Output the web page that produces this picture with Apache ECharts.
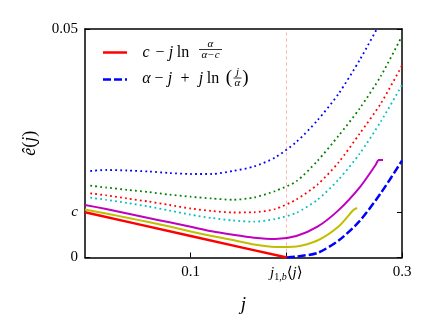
<!DOCTYPE html>
<html>
<head>
<meta charset="utf-8">
<script src="https://cdn.jsdelivr.net/npm/echarts@6/dist/echarts.min.js"></script>
<style>
html, body { margin: 0; padding: 0; background: #fff; }
#main { width: 435px; height: 327px; }
</style>
</head>
<body>
<div id="main"></div>
<script>
var chartDom = document.getElementById('main');
var myChart = echarts.init(chartDom);
var option;

const SERIF = '"Liberation Serif", "DejaVu Serif", serif';

// sample points for the dotted family
const jGrid = [0.005, 0.02, 0.04, 0.06, 0.08, 0.1, 0.12, 0.14, 0.16, 0.18, 0.2, 0.22, 0.24, 0.26, 0.28, 0.3];
const eBlueDot = [0.01893, 0.01915, 0.01904, 0.01882, 0.01849, 0.01827, 0.01827, 0.01893, 0.01991, 0.02190, 0.02527, 0.03002, 0.03584, 0.04324, 0.0516, null];
const eGreenDot = [0.01571, 0.01532, 0.01481, 0.01433, 0.01376, 0.01330, 0.01291, 0.01263, 0.01313, 0.01455, 0.01667, 0.02114, 0.02665, 0.03263, 0.03972, 0.04847];
const eRedDot = [0.01405, 0.01361, 0.01291, 0.01225, 0.01149, 0.01072, 0.01018, 0.00985, 0.00989, 0.01061, 0.01269, 0.01595, 0.02081, 0.02713, 0.03372, 0.04201];
const eCyanDot = [0.01309, 0.01263, 0.01193, 0.01116, 0.01028, 0.00937, 0.00864, 0.00810, 0.00783, 0.00842, 0.00978, 0.01263, 0.01705, 0.02274, 0.02978, 0.03775];

// solid curves
const jMagenta = [0, 0.02, 0.04, 0.06, 0.08, 0.1, 0.12, 0.14, 0.16, 0.18, 0.2, 0.22, 0.24, 0.26, 0.275, 0.278, 0.282];
const eMagenta = [0.01149, 0.01061, 0.00963, 0.00864, 0.00770, 0.00672, 0.00573, 0.00497, 0.00433, 0.00405, 0.00470, 0.00674, 0.01037, 0.01536, 0.02024, 0.02133, 0.02133];
const jYellow = [0, 0.02, 0.04, 0.06, 0.08, 0.1, 0.12, 0.14, 0.16, 0.18, 0.2, 0.22, 0.24, 0.254, 0.2575];
const eYellow = [0.0105, 0.00963, 0.00869, 0.00777, 0.00678, 0.00569, 0.00470, 0.00383, 0.00284, 0.00230, 0.00241, 0.00372, 0.00678, 0.01039, 0.01083];

// c - j ln(alpha/(alpha-c))  and  alpha - j + j ln(j/alpha)
const jRed = [0, 0.05, 0.1, 0.15, 0.191];
const eRed = [0.0099, 0.0073, 0.0047, 0.0021, 0];
const jBlue = [0.191, 0.2, 0.22, 0.24, 0.26, 0.28, 0.3];
const eBlue = [0, 0.0002, 0.0010, 0.0037, 0.0080, 0.0141, 0.0212];

const jOneB = 0.1905;
const xTickValues = [0.1, jOneB, 0.3];
const xTickLabels = ['0.1', '{i|j}{s|1,}{si|b}{n|⟨}{i|j}{n|⟩}', '0.3'];
const yTickValues = [0, 0.0099, 0.05];
const yTickLabels = ['0', '{i|c}', '0.05'];

function pick(vals, labels, v) {
    var k = vals.findIndex(function (t) { return Math.abs(t - v) < 1e-7; });
    return k < 0 ? '' : labels[k];
}

function curve(name, js, es, color, width, dash, z, smooth) {
    return {
        name: name,
        type: 'line',
        data: js.map(function (j, i) { return [j, es[i]]; }),
        showSymbol: false,
        smooth: smooth,
        silent: true,
        z: z,
        lineStyle: { color: color, width: width, type: dash, cap: 'butt' }
    };
}

const richTick = {
    n: { fontFamily: SERIF, fontSize: 15, color: '#000', lineHeight: 18, verticalAlign: 'middle' },
    i: { fontFamily: SERIF, fontSize: 15, fontStyle: 'italic', color: '#000', lineHeight: 18, verticalAlign: 'middle' },
    s: { fontFamily: SERIF, fontSize: 10, color: '#000', lineHeight: 10, verticalAlign: 'bottom' },
    si: { fontFamily: SERIF, fontSize: 10, fontStyle: 'italic', color: '#000', lineHeight: 10, verticalAlign: 'bottom' }
};

function tok(text, x, y, size, italic) {
    return {
        type: 'text', x: x, y: y, silent: true,
        style: {
            text: text, fill: '#000',
            font: (italic ? 'italic ' : '') + size + 'px ' + SERIF,
            align: 'center', verticalAlign: 'middle',
            textAlign: 'center', textVerticalAlign: 'middle'
        }
    };
}
function seg(x1, y1, x2, y2, color, w, dash) {
    return {
        type: 'line', silent: true,
        shape: { x1: x1, y1: y1, x2: x2, y2: y2 },
        style: { stroke: color, lineWidth: w, lineDash: dash || null }
    };
}

const dot = [1.8, 3.2];

option = {
    backgroundColor: '#fff',
    animation: false,
    grid: { left: 85, top: 29, right: 33, bottom: 69.5, outerBoundsMode: 'none' },
    xAxis: [{
        type: 'value', min: 0, max: 0.3,
        name: 'j', nameLocation: 'middle', nameGap: 38,
        nameTextStyle: { fontFamily: SERIF, fontStyle: 'italic', fontSize: 19, color: '#000' },
        axisLine: { show: true, onZero: false, lineStyle: { color: '#000', width: 1.5 } },
        axisTick: { show: true, inside: true, length: 5, customValues: xTickValues, lineStyle: { color: '#000', width: 1 } },
        axisLabel: {
            customValues: xTickValues, margin: 7, color: '#000', fontFamily: SERIF, fontSize: 15,
            formatter: function (v) { return pick(xTickValues, xTickLabels, v); },
            rich: richTick
        },
        splitLine: { show: false }
    }, {
        type: 'value', min: 0, max: 0.3, position: 'top',
        axisLine: { show: true, onZero: false, lineStyle: { color: '#000', width: 1.5 } },
        axisTick: { show: false }, axisLabel: { show: false }, splitLine: { show: false }
    }],
    yAxis: [{
        type: 'value', min: 0, max: 0.05,
        name: '{i|ê}{n|(}{i|j}{n|)}', nameLocation: 'middle', nameGap: 46, nameRotate: 90,
        nameTextStyle: {
            rich: {
                n: { fontFamily: SERIF, fontSize: 18, color: '#000' },
                i: { fontFamily: SERIF, fontSize: 18, fontStyle: 'italic', color: '#000' }
            }
        },
        axisLine: { show: true, onZero: false, lineStyle: { color: '#000', width: 1.5 } },
        axisTick: { show: true, inside: true, length: 5, customValues: yTickValues, lineStyle: { color: '#000', width: 1 } },
        axisLabel: {
            customValues: yTickValues, margin: 7, color: '#000', fontFamily: SERIF, fontSize: 15,
            formatter: function (v) { return pick(yTickValues, yTickLabels, v); },
            rich: richTick
        },
        splitLine: { show: false }
    }, {
        type: 'value', min: 0, max: 0.05, position: 'right',
        axisLine: { show: true, onZero: false, lineStyle: { color: '#000', width: 1.5 } },
        axisTick: { show: true, inside: true, length: 5, customValues: yTickValues, lineStyle: { color: '#000', width: 1 } },
        axisLabel: { show: false, customValues: yTickValues },
        splitLine: { show: false }
    }],
    series: [
        curve('blue dotted', jGrid, eBlueDot, '#0000ff', 1.8, dot, 2, 0.25),
        curve('green dotted', jGrid, eGreenDot, '#008000', 1.8, dot, 2, 0.25),
        curve('red dotted', jGrid, eRedDot, '#ff0000', 1.8, dot, 2, 0.25),
        curve('cyan dotted', jGrid, eCyanDot, '#00bfbf', 1.8, dot, 2, 0.25),
        curve('magenta', jMagenta, eMagenta, '#bf00bf', 2, 'solid', 3, 0.25),
        curve('yellow', jYellow, eYellow, '#bfbf00', 2, 'solid', 3, 0.25),
        Object.assign(curve('c - j ln', jRed, eRed, '#ff0000', 2.5, 'solid', 4, false), {
            markLine: {
                silent: true, symbol: ['none', 'none'], label: { show: false },
                lineStyle: { color: 'rgba(255,0,0,0.3)', width: 1, type: [3, 3] },
                data: [{ xAxis: jOneB }]
            }
        }),
        curve('alpha - j + j ln', jBlue, eBlue, '#0000ff', 2.5, [8, 3], 4, 0.25)
    ],
    graphic: [
        seg(103, 52.5, 127, 52.5, '#ff0000', 2.5),
        tok('c', 146, 52.5, 16, true),
        tok('−', 160, 52.5, 16, false),
        tok('j', 171, 52.5, 16, true),
        tok('ln', 183, 52.5, 16, false),
        tok('α', 210.5, 44, 11, true),
        seg(199, 49.5, 222, 49.5, '#000', 0.8),
        tok('α−c', 210.5, 55.5, 11, true),

        seg(103, 79.5, 127, 79.5, '#0000ff', 2.5, [8, 3]),
        tok('α', 146.5, 78.5, 16, true),
        tok('−', 159, 78.5, 16, false),
        tok('j', 170, 78.5, 16, true),
        tok('+', 185, 78.5, 16, false),
        tok('j', 201, 78.5, 16, true),
        tok('ln', 213, 78.5, 16, false),
        tok('(', 229, 78.5, 19, false),
        tok('j', 237.5, 72.5, 11, true),
        seg(233.5, 78, 241.5, 78, '#000', 0.8),
        tok('α', 237.5, 83.5, 11, true),
        tok(')', 245.5, 78.5, 19, false)
    ]
};

option && myChart.setOption(option);

window.addEventListener('resize', function () {
    myChart.resize();
});
</script>
</body>
</html>
